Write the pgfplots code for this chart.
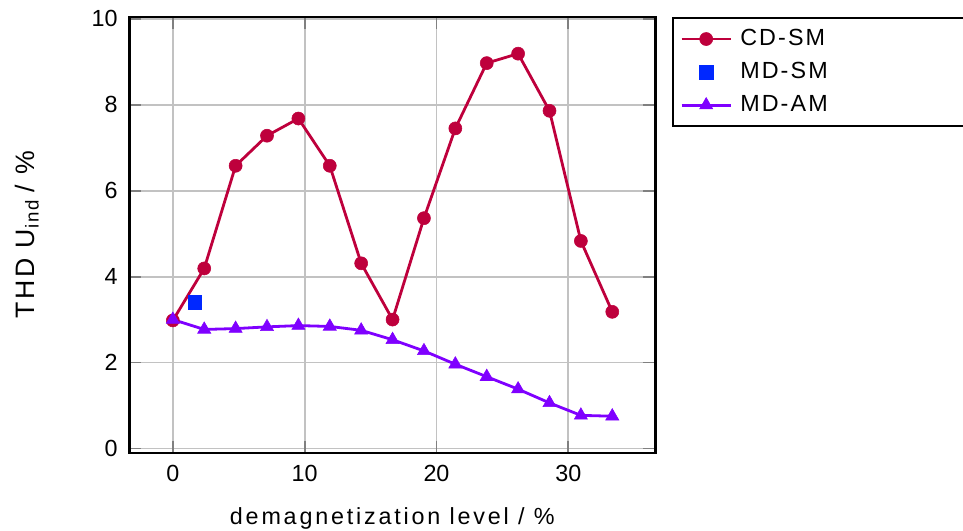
\documentclass[border=0pt]{standalone}
\usepackage{fontspec}
\setmainfont{Liberation Sans}
\newfontfamily\lsfont[LetterSpace=9]{Liberation Sans}
\newfontfamily\lsxfont[LetterSpace=12]{Liberation Sans}
\newfontfamily\lsyfont[LetterSpace=10]{Liberation Sans}
\usepackage{pgfplots}
\pgfplotsset{compat=1.18}
\definecolor{cdsm}{RGB}{190,0,60}
\definecolor{mdsm}{RGB}{0,40,255}
\definecolor{mdam}{RGB}{127,0,255}
\begin{document}
\fontsize{17.5}{21}\selectfont
\begin{tikzpicture}
\useasboundingbox (0,0) rectangle (722.25pt,398.25pt);
\begin{axis}[
  at={(97pt,58.7pt)}, anchor=south west,
  scale only axis, width=394.5pt, height=327pt,
  xmin=-3.3, xmax=36.6, ymin=-0.1, ymax=10.05,
  xtick={0,10,20,30}, ytick={0,2,4,6,8,10},
  grid=major,
  major grid style={line width=1.4pt, color=black!24},
  tick align=inside, tick pos=both,
  major tick length=9pt,
  every tick/.style={line width=1.4pt, color=black!50},
  axis line style={line width=1.8pt},
  tick label style={font=\fontsize{17.5}{21}\selectfont},
  /pgf/number format/assume math mode=true,
  yticklabel style={xshift=-2.7pt},
  xticklabel style={yshift=-3.4pt},
  every axis x label/.style={at={(axis description cs:0.5,-0.1651)}, anchor=base},
  every axis y label/.style={at={(axis description cs:-0.1805,0.5)}, rotate=90, anchor=base},
  xlabel={\lsxfont demagnetization level / \%},
  ylabel={\lsyfont\fontsize{20}{24}\selectfont THD U\textsubscript{ind}\hspace{-2pt} / \%},
  legend style={at={(1,1)}, anchor=north west, xshift=12.3pt, draw=black, line width=1.6pt,
    font=\lsfont\fontsize{17.5}{21}\selectfont, row sep=6pt, cells={anchor=west},
    inner xsep=5.5pt, inner ysep=6.5pt, nodes={inner sep=2pt, text depth=0.15em},
    /tikz/every odd column/.append style={column sep=4pt},
    /tikz/every even column/.append style={text width=200pt}},
  legend image code/.code={\draw[mark repeat=2,mark phase=2,#1] plot coordinates {(0cm,0cm) (0.65cm,0cm) (1.3cm,0cm)};},
]
\addplot[color=cdsm, line width=2.1pt, mark=*, mark size=4.9pt, mark options={solid, line width=0.4pt}] coordinates {
(0,2.98) (2.381,4.19) (4.762,6.58) (7.143,7.28) (9.524,7.68) (11.905,6.58) (14.286,4.31) (16.667,3.0)
(19.048,5.36) (21.429,7.45) (23.810,8.97) (26.190,9.19) (28.571,7.86) (30.952,4.83) (33.333,3.18)};
\addlegendentry{CD-SM}
\addplot[only marks, color=mdsm, mark=square*, mark size=5pt, mark options={line width=0.4pt}] coordinates {(1.67,3.4)};
\addlegendentry{MD-SM}
\addplot[color=mdam, line width=2.1pt, mark=triangle*, mark size=5.7pt, mark options={solid, line width=0.4pt}] coordinates {
(0,3.0) (2.381,2.77) (4.762,2.79) (7.143,2.83) (9.524,2.86) (11.905,2.84) (14.286,2.75) (16.667,2.53)
(19.048,2.27) (21.429,1.96) (23.810,1.67) (26.190,1.38) (28.571,1.06) (30.952,0.77) (33.333,0.75)};
\addlegendentry{MD-AM}
\end{axis}
\end{tikzpicture}
\end{document}
